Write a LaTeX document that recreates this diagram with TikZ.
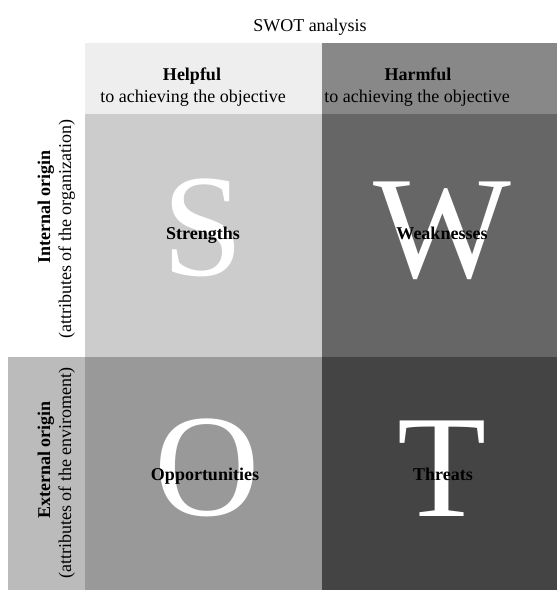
\documentclass[tikz,border=0pt]{standalone}
\usepackage{fontspec}
\setmainfont{Liberation Serif}
\usepackage{xcolor}
\definecolor{helpfulbg}{HTML}{EEEEEE}
\definecolor{harmfulbg}{HTML}{888888}
\definecolor{strbg}{HTML}{CCCCCC}
\definecolor{weakbg}{HTML}{666666}
\definecolor{oppbg}{HTML}{999999}
\definecolor{thrbg}{HTML}{444444}
\definecolor{extbg}{HTML}{BBBBBB}

\begin{document}
\begin{tikzpicture}[x=1pt,y=-1pt,
    big/.style={text=white,anchor=base,inner sep=0pt,font=\fontsize{146}{146}\selectfont},
    head/.style={anchor=base,inner sep=0pt,font=\fontsize{18}{21}\selectfont\bfseries},
    plain/.style={anchor=base,inner sep=0pt,font=\fontsize{18}{21}\selectfont}]
    \useasboundingbox (0,0) rectangle (557,590);
    % boxes
    \fill [helpfulbg] (85,43)--(322,43)--(322,114)--(85,114);
    \fill [harmfulbg] (322,43)--(557,43)--(557,114)--(322,114);
    \fill [strbg] (85,114)--(322,114)--(322,357)--(85,357);
    \fill [weakbg] (322,114)--(557,114)--(557,357)--(322,357);
    \fill [extbg] (8,357)--(85,357)--(85,590)--(8,590);
    \fill [oppbg] (85,357)--(322,357)--(322,590)--(85,590);
    \fill [thrbg] (322,357)--(557,357)--(557,590)--(322,590);
    % big letters
    \node[big] (S) at (203,275) {S};
    \node[big] (W) at (442,277) {W};
    \node[big] (O) at (207,515) {O};
    \node[big] (T) at (442,516) {T};
    % texts
    \node[plain] (title) at (310,31) {SWOT analysis};
    \node[head] (help) at (192,80) {Helpful};
    \node[plain] (helpsub) at (193,102) {to achieving the objective};
    \node[head] (harm) at (418,80) {Harmful};
    \node[plain] (harmsub) at (417,102) {to achieving the objective};
    \node[head] (str) at (203,239) {Strengths};
    \node[head] (weak) at (442,239) {Weaknesses};
    \node[head] (opp) at (205,480) {Opportunities};
    \node[head] (thr) at (443,480) {Threats};
    \node[head,rotate=90] (int) at (50,207) {Internal origin};
    \node[plain,rotate=90] (intsub) at (71,229) {(attributes of the organization)};
    \node[head,rotate=90] (ext) at (50,460) {External origin};
    \node[plain,rotate=90] (extsub) at (71,473) {(attributes of the enviroment)};
\end{tikzpicture}
\end{document}
